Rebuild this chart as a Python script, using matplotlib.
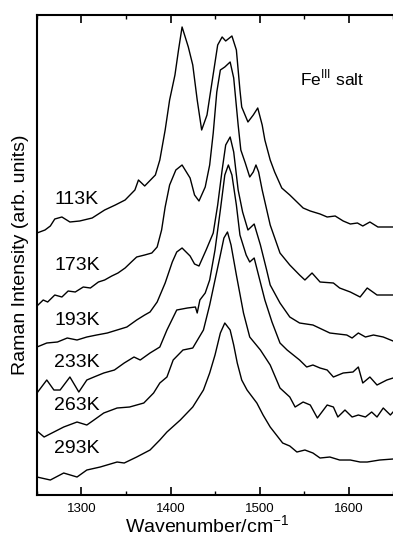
import matplotlib
matplotlib.use("Agg")
import matplotlib.pyplot as plt
from matplotlib.ticker import MultipleLocator

plt.rcParams['font.family'] = 'Liberation Sans'
plt.rcParams['mathtext.fontset'] = 'custom'
plt.rcParams['mathtext.rm'] = 'Liberation Sans'

# spectra, already stacked as shown (arb. units)
wn_113 = [1250, 1259, 1265, 1270, 1278, 1287, 1298, 1312, 1326, 1338, 1349, 1360, 1364, 1371, 1383, 1388,
          1394, 1399, 1405, 1409, 1413, 1420, 1425, 1430, 1435, 1441, 1447, 1453, 1458, 1462, 1469, 1474,
          1478, 1480, 1487, 1493, 1498, 1503, 1506, 1512, 1517, 1525, 1534, 1549, 1557, 1568, 1576, 1585,
          1594, 1602, 1610, 1616, 1624, 1633, 1650]
i_113 = [262, 265, 269, 276, 278, 273, 274, 277, 285, 290, 295, 305, 315, 309, 320, 335,
         365, 395, 420, 445, 468, 448, 430, 395, 365, 380, 415, 450, 458, 454, 459, 445,
         405, 388, 373, 380, 387, 370, 355, 335, 323, 307, 300, 287, 284, 281, 278, 279,
         274, 271, 272, 269, 273, 268, 268]

wn_173 = [1250, 1257, 1262, 1270, 1278, 1285, 1293, 1302, 1310, 1319, 1326, 1334, 1341, 1349, 1356, 1362,
          1371, 1379, 1385, 1390, 1394, 1399, 1406, 1413, 1422, 1427, 1432, 1439, 1444, 1448, 1452, 1456,
          1461, 1467, 1471, 1476, 1479, 1484, 1489, 1493, 1496, 1499, 1503, 1512, 1523, 1534, 1545, 1551,
          1559, 1568, 1583, 1590, 1602, 1613, 1621, 1632, 1650]
i_173 = [189, 195, 193, 200, 198, 204, 203, 208, 207, 213, 215, 219, 222, 227, 233, 238,
         240, 242, 248, 265, 288, 310, 325, 330, 317, 300, 294, 308, 330, 362, 403, 425,
         428, 433, 417, 370, 345, 332, 318, 323, 330, 323, 305, 270, 242, 230, 220, 215,
         222, 213, 212, 207, 203, 198, 207, 200, 200]

wn_193 = [1250, 1261, 1273, 1284, 1295, 1306, 1317, 1329, 1340, 1351, 1362, 1371, 1377, 1385, 1394, 1402,
          1407, 1413, 1422, 1427, 1432, 1440, 1448, 1453, 1458, 1462, 1467, 1471, 1476, 1481, 1487, 1494,
          1501, 1508, 1512, 1523, 1534, 1545, 1560, 1579, 1598, 1604, 1611, 1619, 1628, 1639, 1650]
i_193 = [148, 152, 153, 157, 155, 158, 160, 162, 165, 168, 175, 180, 183, 193, 212, 233,
         243, 247, 239, 231, 229, 245, 262, 290, 325, 350, 358, 343, 305, 283, 265, 271,
         250, 225, 210, 192, 178, 172, 170, 162, 160, 157, 162, 158, 160, 158, 154]

wn_233 = [1250, 1261, 1269, 1276, 1287, 1297, 1306, 1314, 1325, 1337, 1348, 1359, 1366, 1377, 1388, 1396,
          1407, 1419, 1428, 1430, 1433, 1439, 1444, 1450, 1456, 1461, 1465, 1469, 1474, 1478, 1485, 1489,
          1494, 1498, 1506, 1514, 1523, 1531, 1538, 1545, 1553, 1560, 1568, 1576, 1583, 1594, 1605, 1611,
          1616, 1624, 1632, 1643, 1650]
i_233 = [102, 115, 105, 105, 118, 103, 115, 118, 122, 125, 132, 138, 135, 142, 148, 165,
         185, 187, 188, 182, 195, 202, 215, 245, 285, 320, 330, 320, 290, 260, 240, 233,
         237, 223, 195, 173, 152, 145, 140, 135, 128, 130, 127, 125, 118, 122, 123, 128,
         112, 118, 110, 115, 117]

wn_263 = [1250, 1258, 1269, 1280, 1295, 1306, 1314, 1325, 1340, 1354, 1370, 1381, 1388, 1396, 1403, 1414,
          1425, 1437, 1444, 1450, 1456, 1460, 1464, 1468, 1474, 1482, 1489, 1501, 1512, 1523, 1534, 1540,
          1549, 1557, 1565, 1576, 1583, 1588, 1596, 1604, 1611, 1619, 1626, 1632, 1639, 1647, 1650]
i_263 = [64, 58, 63, 68, 73, 70, 75, 82, 87, 88, 92, 102, 112, 118, 135, 145,
         147, 165, 190, 215, 240, 257, 263, 250, 220, 182, 158, 145, 130, 107, 98, 88,
         93, 90, 77, 90, 88, 78, 85, 78, 80, 78, 83, 78, 87, 80, 83]

wn_293 = [1250, 1265, 1280, 1295, 1306, 1321, 1340, 1348, 1362, 1377, 1388, 1396, 1411, 1425, 1437, 1444,
          1450, 1456, 1461, 1467, 1471, 1475, 1480, 1486, 1497, 1504, 1512, 1526, 1534, 1542, 1551, 1560,
          1568, 1579, 1590, 1602, 1613, 1621, 1635, 1650]
i_293 = [18, 15, 22, 18, 25, 28, 33, 32, 38, 45, 55, 63, 75, 88, 105, 122,
         140, 162, 172, 165, 150, 132, 115, 105, 92, 80, 68, 52, 49, 43, 45, 42,
         37, 38, 35, 35, 33, 33, 35, 36]

temps = ['113K', '173K', '193K', '233K', '263K', '293K']
label_y = [295, 230, 175, 133, 90, 47]

fig = plt.figure(figsize=(3.93, 5.41), dpi=100)
ax = fig.add_axes([0.0941, 0.085, 0.906, 0.8873])

spectra = [(wn_113, i_113), (wn_173, i_173), (wn_193, i_193),
           (wn_233, i_233), (wn_263, i_263), (wn_293, i_293)]
for (wn, inten), t, ly in zip(spectra, temps, label_y):
    ax.plot(wn, inten, color='black', lw=1.0, solid_joinstyle='round')
    ax.text(1295, ly, t, fontsize=14, ha='center', va='center')

ax.text(1545, 417, r'Fe$^{\mathrm{III}}$ salt', fontsize=12.5, ha='left', va='center')

ax.set_xlim(1250, 1650)
ax.set_ylim(0, 480)
ax.set_yticks([])
ax.xaxis.set_major_locator(MultipleLocator(100))
ax.xaxis.set_minor_locator(MultipleLocator(50))
ax.tick_params(axis='x', which='both', direction='in', top=True, labelsize=9.5, pad=6)
ax.tick_params(axis='x', which='major', length=6, width=1.2)
ax.tick_params(axis='x', which='minor', length=3, width=1.0)
ax.spines['right'].set_visible(False)
for s in ['left', 'top', 'bottom']:
    ax.spines[s].set_linewidth(1.5)

ax.set_xlabel('Wavenumber/cm$^{-1}$', fontsize=14)
ax.xaxis.set_label_coords(0.478, -0.04)
ax.set_ylabel('Raman Intensity (arb. units)', fontsize=14, labelpad=6)

fig.savefig('out.png', dpi=100)
